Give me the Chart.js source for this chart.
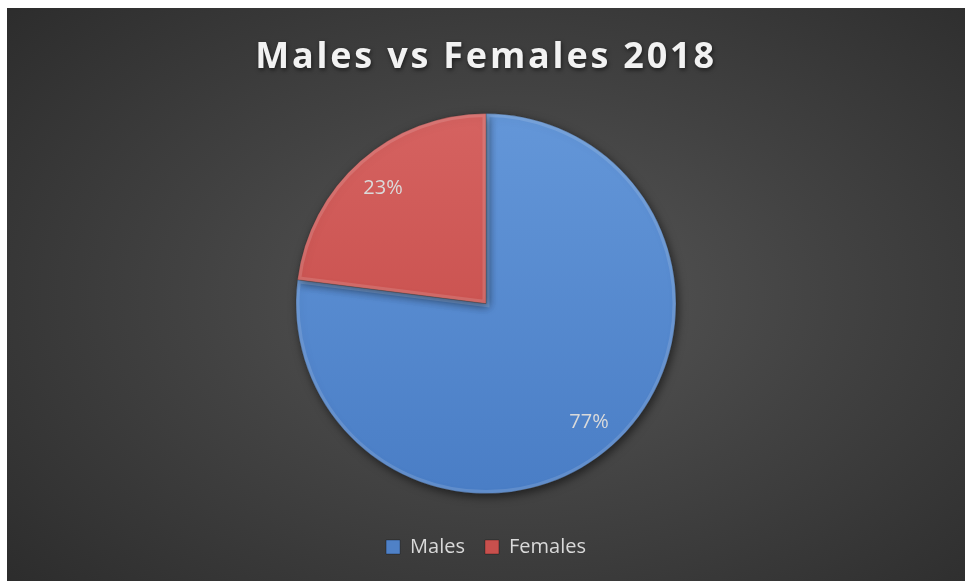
<!DOCTYPE html>
<html>
<head>
<meta charset="utf-8">
<script src="https://cdn.jsdelivr.net/npm/chart.js@4.4.1/dist/chart.umd.min.js"></script>
<style>
  html, body { margin:0; padding:0; background:#fff; }
  #wrap {
    position:absolute; left:7px; top:8px; width:958px; height:573px;
    background: radial-gradient(ellipse 75% 80% at 53% 50%, #575757 0%, #424242 45%, #2a2a2a 100%);
  }
</style>
</head>
<body>
<div id="wrap"><canvas id="chart-gender"></canvas></div>
<script>
// dados
const categorias = ['Males', 'Females'];
const percentuais = [77, 23];
const coresClaras = ['#6396d8', '#d56260'];
const coresEscuras = ['#4a7ec6', '#c24643'];
const coresLegenda = ['#4f81c7', '#c8504d'];

// preenchimento com leve degradê (efeito do Excel)
function fatia(ctx) {
  const area = ctx.chart.chartArea;
  const i = ctx.dataIndex;
  if (!area) return coresLegenda[i];
  const g = ctx.chart.ctx.createLinearGradient(0, area.top + 30, 0, area.bottom - 30);
  g.addColorStop(0, coresClaras[i]);
  g.addColorStop(1, coresEscuras[i]);
  return g;
}

function caminhoFatia(c, p) {
  c.beginPath();
  c.moveTo(p.x, p.y);
  c.arc(p.x, p.y, p.outerRadius, p.startAngle, p.endAngle);
  c.closePath();
}

// título espaçado com sombra, sombra da pizza, bisel e rótulos
const rotulosPlugin = {
  id: 'rotulos',
  beforeDraw(chart) {
    const tb = chart.titleBlock;
    if (tb && !tb._espacado) {
      tb._espacado = true;
      const orig = tb.draw.bind(tb);
      tb.draw = function () {
        const c = this.ctx;
        c.save();
        c.letterSpacing = '2.8px';
        c.shadowColor = 'rgba(0,0,0,0.55)';
        c.shadowBlur = 4;
        c.shadowOffsetX = 1;
        c.shadowOffsetY = 2;
        orig();
        c.restore();
      };
    }
  },
  beforeDatasetsDraw(chart) {
    const c = chart.ctx;
    c.save();
    c.shadowColor = 'rgba(0,0,0,0.55)';
    c.shadowBlur = 10;
    c.shadowOffsetX = 2;
    c.shadowOffsetY = 3;
  },
  afterDatasetsDraw(chart) {
    const c = chart.ctx;
    c.restore();
    const meta = chart.getDatasetMeta(0);
    // bisel interno
    meta.data.forEach((arc) => {
      const p = arc.getProps(['x','y','startAngle','endAngle','outerRadius'], true);
      c.save();
      caminhoFatia(c, p);
      c.clip();
      c.lineWidth = 7;
      c.strokeStyle = 'rgba(255,255,255,0.13)';
      caminhoFatia(c, p);
      c.stroke();
      c.restore();
    });
    c.save();
    c.font = '20px "Open Sans"';
    c.fillStyle = '#dadada';
    c.textAlign = 'center';
    c.textBaseline = 'middle';
    meta.data.forEach((arc, i) => {
      const p = arc.getProps(['x','y','startAngle','endAngle','outerRadius'], true);
      const mid = (p.startAngle + p.endAngle) / 2;
      const r = p.outerRadius * 0.82;
      c.fillText(percentuais[i] + '%', p.x + Math.cos(mid) * r, p.y + Math.sin(mid) * r + 2);
    });
    c.restore();
  }
};

new Chart(document.getElementById('chart-gender'), {
  type: 'pie',
  data: {
    labels: categorias,
    datasets: [{
      data: percentuais,
      backgroundColor: fatia,
      borderColor: 'rgba(40,40,40,0.35)',
      borderWidth: 1,
      radius: 190
    }]
  },
  options: {
    responsive: true,
    maintainAspectRatio: false,
    animation: false,
    layout: { padding: { top: 0, bottom: 14, left: 0, right: 0 } },
    plugins: {
      tooltip: { enabled: false },
      title: {
        display: true,
        text: 'Males vs Females 2018',
        color: '#f2f2f2',
        font: { family: '"Open Sans"', size: 36, weight: 'bold' },
        padding: { top: 28, bottom: 11 }
      },
      legend: {
        position: 'bottom',
        labels: {
          color: '#d9d9d9',
          font: { family: '"Open Sans"', size: 20 },
          boxWidth: 14,
          boxHeight: 14,
          padding: 20,
          generateLabels: (chart) => categorias.map((c, i) => ({
            text: c, fillStyle: coresLegenda[i], strokeStyle: 'rgba(0,0,0,0.3)', lineWidth: 1,
            fontColor: '#d9d9d9', index: i, hidden: false
          }))
        }
      }
    }
  },
  plugins: [rotulosPlugin]
});
</script>
</body>
</html>
